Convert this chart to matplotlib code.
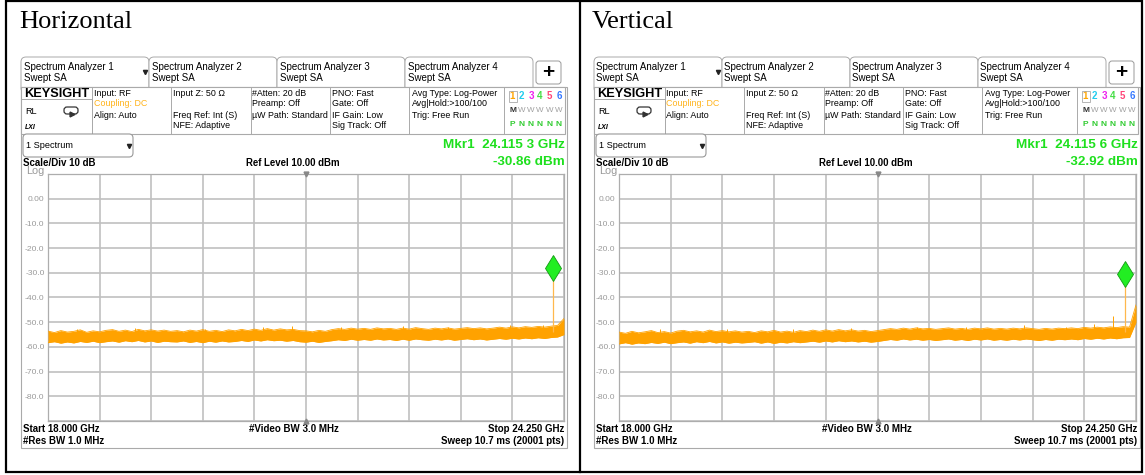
import numpy as np
import matplotlib.pyplot as plt
from matplotlib.patches import Rectangle, FancyBboxPatch

plt.rcParams['font.family'] = ['Liberation Sans', 'DejaVu Sans']

W, H = 1145, 475

# sweep settings (both screenshots)
start_ghz = 18.0
stop_ghz = 24.25
n_pts = 81
y_labels = ['', '-80.0', '-70.0', '-60.0', '-50.0', '-40.0', '-30.0', '-20.0', '-10.0', '0.00', '']

# Horizontal: noise band, upper / lower envelope in dBm
horiz_upper = [-53.6, -54.2, -53.4, -54.0, -53.7, -53.1, -54.1, -53.5, -53.9, -53.3,
               -53.0, -53.7, -53.2, -53.8, -52.9, -53.5, -53.1, -53.6, -53.2, -53.7,
               -53.4, -53.9, -53.2, -53.6, -53.0, -53.7, -53.3, -53.8, -53.1, -53.5,
               -52.9, -53.4, -52.8, -53.3, -52.6, -53.2, -52.7, -53.1, -52.9, -53.4,
               -53.5, -53.9, -53.3, -53.7, -53.0, -52.6, -52.9, -52.4, -52.8, -52.5,
               -52.9, -52.3, -52.7, -52.5, -52.9, -52.4, -52.8, -52.2, -52.6, -52.9,
               -52.4, -52.7, -52.3, -52.8, -52.5, -52.2, -52.6, -52.3, -52.7, -52.4,
               -52.0, -52.4, -51.9, -52.3, -51.8, -52.1, -51.7, -52.0, -51.6, -51.3,
               -48.5]
horiz_lower = [-58.3, -57.9, -58.5, -58.0, -58.4, -57.8, -58.2, -57.7, -58.3, -57.9,
               -57.6, -58.1, -57.5, -57.9, -57.4, -58.0, -57.6, -58.2, -57.7, -57.9,
               -58.0, -57.6, -58.2, -57.8, -58.3, -57.7, -58.1, -57.6, -58.0, -57.8,
               -57.4, -57.8, -57.2, -57.6, -57.1, -57.5, -57.3, -57.7, -57.4, -57.9,
               -58.1, -57.7, -58.2, -57.8, -57.5, -57.1, -57.4, -56.9, -57.3, -57.0,
               -57.3, -56.8, -57.2, -57.0, -57.4, -56.9, -57.3, -56.8, -57.1, -57.3,
               -56.9, -57.2, -56.8, -57.3, -57.0, -56.7, -57.1, -56.8, -57.2, -56.9,
               -56.6, -56.9, -56.5, -56.8, -56.4, -56.7, -56.3, -56.6, -56.2, -56.0,
               -55.0]
horiz_spike_f = [18.35, 19.05, 19.9, 20.6, 20.95, 21.55, 22.3, 22.85, 23.6, 24.0]
horiz_spike_db = [-52.6, -52.4, -52.9, -52.1, -51.6, -51.9, -51.4, -51.8, -51.2, -51.0]
horiz_peak_f = 24.115
horiz_peak_top = -24.2
horiz_marker_db = -28.1

# Vertical
vert_upper = [-54.0, -54.5, -53.7, -54.3, -53.9, -53.4, -54.2, -53.8, -54.4, -53.6,
              -53.3, -53.9, -53.5, -54.0, -53.2, -53.8, -53.4, -53.9, -53.5, -54.0,
              -53.7, -54.2, -53.5, -53.9, -53.3, -54.0, -53.6, -54.1, -53.4, -53.8,
              -53.2, -53.7, -53.1, -53.6, -53.0, -53.5, -53.1, -53.6, -53.3, -53.8,
              -53.4, -53.0, -52.6, -52.9, -52.4, -52.8, -52.3, -52.7, -52.5, -52.9,
              -52.6, -52.3, -52.8, -52.5, -52.9, -52.4, -52.7, -52.3, -52.8, -52.5,
              -52.8, -52.4, -52.7, -52.3, -52.6, -52.9, -52.5, -52.8, -52.4, -52.6,
              -52.3, -52.6, -52.1, -52.4, -52.0, -52.3, -51.9, -52.2, -51.8, -52.0,
              -43.0]
vert_lower = [-58.8, -58.3, -58.9, -58.4, -58.7, -58.2, -58.6, -58.1, -58.7, -58.3,
              -58.0, -58.5, -57.9, -58.3, -57.8, -58.4, -58.0, -58.5, -58.1, -58.4,
              -58.2, -57.9, -58.5, -58.0, -58.6, -58.1, -58.4, -57.9, -58.3, -58.0,
              -57.7, -58.1, -57.6, -58.0, -57.5, -57.9, -57.6, -58.0, -57.7, -58.1,
              -57.8, -57.4, -57.0, -57.3, -56.8, -57.2, -56.9, -57.3, -57.0, -57.4,
              -57.1, -56.8, -57.3, -57.0, -57.4, -56.9, -57.2, -56.8, -57.3, -57.0,
              -57.3, -56.9, -57.2, -56.8, -57.1, -57.4, -57.0, -57.3, -56.9, -57.1,
              -56.8, -57.1, -56.6, -56.9, -56.5, -56.8, -56.4, -56.7, -56.3, -56.2,
              -50.0]
vert_spike_f = [18.5, 19.3, 20.1, 20.8, 21.6, 22.2, 22.9, 23.4, 23.74, 23.97]
vert_spike_db = [-52.8, -52.6, -52.9, -52.3, -51.9, -52.0, -51.1, -51.8, -50.7, -47.5]
vert_peak_f = 24.1156
vert_peak_top = -26.5
vert_marker_db = -30.6

ORANGE = '#ffa200'
GREEN = '#1ee01e'
GRAY_LINE = '#adadad'

fig = plt.figure(figsize=(W / 100, H / 100), dpi=100)
bg = fig.add_axes([0, 0, 1, 1])
bg.set_xlim(0, W)
bg.set_ylim(H, 0)
bg.axis('off')


def txt(x, y, s, size=6.4, **kw):
    kw.setdefault('va', 'center')
    bg.text(x, y, s, fontsize=size, **kw)


def draw_panel(dx, title, upper, lower, spike_f, spike_db, peak_f, peak_top,
               marker_db, mkr_txt, lvl_txt, plot_x0, plot_x1):
    bg.text(19 + dx, 28, title, fontsize=19, family='Liberation Serif', va='baseline')

    # tabs
    tab_names = ['Spectrum Analyzer 1', 'Spectrum Analyzer 2', 'Spectrum Analyzer 3', 'Spectrum Analyzer 4']
    for i, name in enumerate(tab_names):
        x = 21 + dx + i * 128
        bg.add_patch(FancyBboxPatch((x, 57), 128, 36, boxstyle='round,pad=0,rounding_size=5',
                                    fc='white', ec='#aaaaaa', lw=0.7))
        txt(x + 2.5, 67, name, 7.0)
        txt(x + 2.5, 78, 'Swept SA', 7.0)
    bg.plot(145 + dx, 72, marker='v', ms=3, color='#222222')
    bg.add_patch(FancyBboxPatch((536 + dx, 61), 25, 23, boxstyle='round,pad=0,rounding_size=3',
                                fc='white', ec='#999999', lw=0.7))
    txt(548.5 + dx, 72, '+', 15, ha='center', weight='bold')

    # info bar
    bg.add_patch(Rectangle((21 + dx, 87), 546, 361, fc='white', ec='#aaaaaa', lw=0.8, zorder=2))
    bg.add_patch(Rectangle((21 + dx, 87), 544, 47, fc='white', ec='#aaaaaa', lw=0.8, zorder=2))
    for xs in [92, 171, 251, 330, 409, 504]:
        bg.plot([xs + dx, xs + dx], [87, 134], color='#aaaaaa', lw=0.7, zorder=3)
    bg.add_patch(Rectangle((21 + dx, 99), 71, 35, fill=False, ec='#aaaaaa', lw=0.7, zorder=3))
    txt(24 + dx, 94, 'KEYSIGHT', 9.2, weight='bold', zorder=4)
    txt(25 + dx, 111.5, 'RL', 6.6, zorder=4)
    bg.add_patch(FancyBboxPatch((64 + dx, 107), 14, 7, boxstyle='round,pad=0,rounding_size=3',
                                fill=False, ec='#333333', lw=0.9, zorder=4))
    bg.plot(72 + dx, 114, marker='>', ms=3.5, color='#333333', zorder=4)
    txt(25 + dx, 127.5, 'LXI', 5.0, style='italic', weight='bold', zorder=4)

    rows = [93, 104, 115, 126]
    cols = {
        93.5: ['Input: RF', None, 'Align: Auto'],
        173: ['Input Z: 50 Ω', None, 'Freq Ref: Int (S)', 'NFE: Adaptive'],
        252: ['#Atten: 20 dB', 'Preamp: Off', 'µW Path: Standard'],
        332: ['PNO: Fast', 'Gate: Off', 'IF Gain: Low', 'Sig Track: Off'],
        412: ['Avg Type: Log-Power', 'Avg|Hold:>100/100', 'Trig: Free Run'],
    }
    for cx, lines in cols.items():
        for ry, s in zip(rows, lines):
            if s:
                txt(cx + dx, ry, s, 6.4, zorder=4)
    txt(93.5 + dx, 104, 'Coupling: DC', 6.4, color='#ffb31a', zorder=4)

    trace_cols = ['#ffa500', '#22ccee', '#ee22ee', '#44dd44', '#ff4477', '#3377ff']
    dig_x = [512.5, 521.5, 531, 540, 549.5, 559]
    for k, (xx, c) in enumerate(zip(dig_x, trace_cols)):
        txt(xx + dx, 96, str(k + 1), 7, color=c, ha='center', weight='bold', zorder=4)
        if k > 0:
            txt(xx + dx, 111, 'W', 5.8, color='#a0a0a0', ha='center', zorder=4)
            txt(xx + dx, 124.5, 'N', 6, color='#33cc33', ha='center', weight='bold', zorder=4)
    bg.add_patch(Rectangle((509 + dx, 90.5), 7.5, 11, fill=False, ec='#aaaaaa', lw=0.6, zorder=4))
    txt(512.5 + dx, 111, 'M', 6, ha='center', weight='bold', color='#333333', zorder=4)
    txt(512.5 + dx, 124.5, 'P', 6, ha='center', weight='bold', color='#33cc33', zorder=4)

    # dropdown + readouts
    bg.add_patch(FancyBboxPatch((23 + dx, 134), 110, 23, boxstyle='round,pad=0,rounding_size=4',
                                fc='white', ec='#999999', lw=0.8, zorder=4))
    txt(26 + dx, 146, '1 Spectrum', 6.6, zorder=5)
    bg.plot(128.5 + dx, 146, marker='v', ms=3, color='#222222', zorder=5)
    txt(565 + dx, 145, mkr_txt, 9.7, ha='right', weight='bold', color=GREEN, zorder=5)
    txt(565 + dx, 162, lvl_txt, 9.7, ha='right', weight='bold', color=GREEN, zorder=5)
    txt(23 + dx, 163, 'Scale/Div 10 dB', 7.0, weight='bold', zorder=5)
    txt(293 + dx, 163, 'Ref Level 10.00 dBm', 6.9, ha='center', weight='bold', zorder=5)
    txt(26 + dx, 171.5, 'Log', 7.8, color='#999999', zorder=5)

    txt(23 + dx, 429, 'Start 18.000 GHz', 7.0, weight='bold', zorder=5)
    txt(23 + dx, 441, '#Res BW 1.0 MHz', 7.0, weight='bold', zorder=5)
    txt(293.5 + dx, 429, '#Video BW 3.0 MHz', 7.0, ha='center', weight='bold', zorder=5)
    txt(564 + dx, 429, 'Stop 24.250 GHz', 7.0, ha='right', weight='bold', zorder=5)
    txt(564 + dx, 441, 'Sweep 10.7 ms (20001 pts)', 7.0, ha='right', weight='bold', zorder=5)

    # trace window
    ax = fig.add_axes([plot_x0 / W, 1 - 421 / H, (plot_x1 - plot_x0) / W, 247 / H])
    freqs = np.linspace(start_ghz, stop_ghz, n_pts)
    ax.set_xlim(start_ghz, stop_ghz)
    ax.set_ylim(-90, 10)
    ax.set_xticks(np.linspace(start_ghz, stop_ghz, 11))
    ax.set_yticks(range(-90, 11, 10))
    ax.set_yticklabels(y_labels)
    ax.set_xticklabels([])
    ax.tick_params(length=0, labelsize=6.1, labelcolor='#9a9a9a', pad=2.5)
    ax.grid(True, color='#c0c0c0', lw=1.2)
    for sp in ax.spines.values():
        sp.set_color(GRAY_LINE)
        sp.set_linewidth(0.9)

    ax.fill_between(freqs, lower, upper, color=ORANGE, lw=0, zorder=3)
    ax.plot(freqs, upper, color=ORANGE, lw=0.6, zorder=3)
    ax.plot(freqs, lower, color=ORANGE, lw=0.6, zorder=3)
    ax.vlines(spike_f, -55, spike_db, color=ORANGE, lw=0.7, zorder=3)
    ax.vlines(peak_f, -54, peak_top, color='#ffb84d', lw=0.9, zorder=3)
    ax.plot([peak_f, peak_f + 0.02], [peak_top - 1.5, peak_top], color='#ffb84d', lw=0.8, zorder=3)
    ax.plot(peak_f, marker_db, marker='d', ms=13, color='#22ee22', mec='#149914', mew=0.6,
            zorder=4, clip_on=False)
    mid = (start_ghz + stop_ghz) / 2
    ax.plot(mid, 10, marker='v', ms=3.5, color='#888888', clip_on=False, zorder=5)
    ax.plot(mid, -90, marker='^', ms=3.5, color='#888888', clip_on=False, zorder=5)


draw_panel(0, 'Horizontal', horiz_upper, horiz_lower, horiz_spike_f, horiz_spike_db,
           horiz_peak_f, horiz_peak_top, horiz_marker_db,
           'Mkr1  24.115 3 GHz', '-30.86 dBm', 48, 564)
draw_panel(573, 'Vertical', vert_upper, vert_lower, vert_spike_f, vert_spike_db,
           vert_peak_f, vert_peak_top, vert_marker_db,
           'Mkr1  24.115 6 GHz', '-32.92 dBm', 619, 1136)

# table borders
bg.add_patch(Rectangle((6, 1), 1136, 471, fill=False, ec='black', lw=1.6, zorder=6))
bg.plot([580, 580], [1, 472], color='black', lw=1.6, zorder=6)

fig.savefig('out.png', dpi=100)
